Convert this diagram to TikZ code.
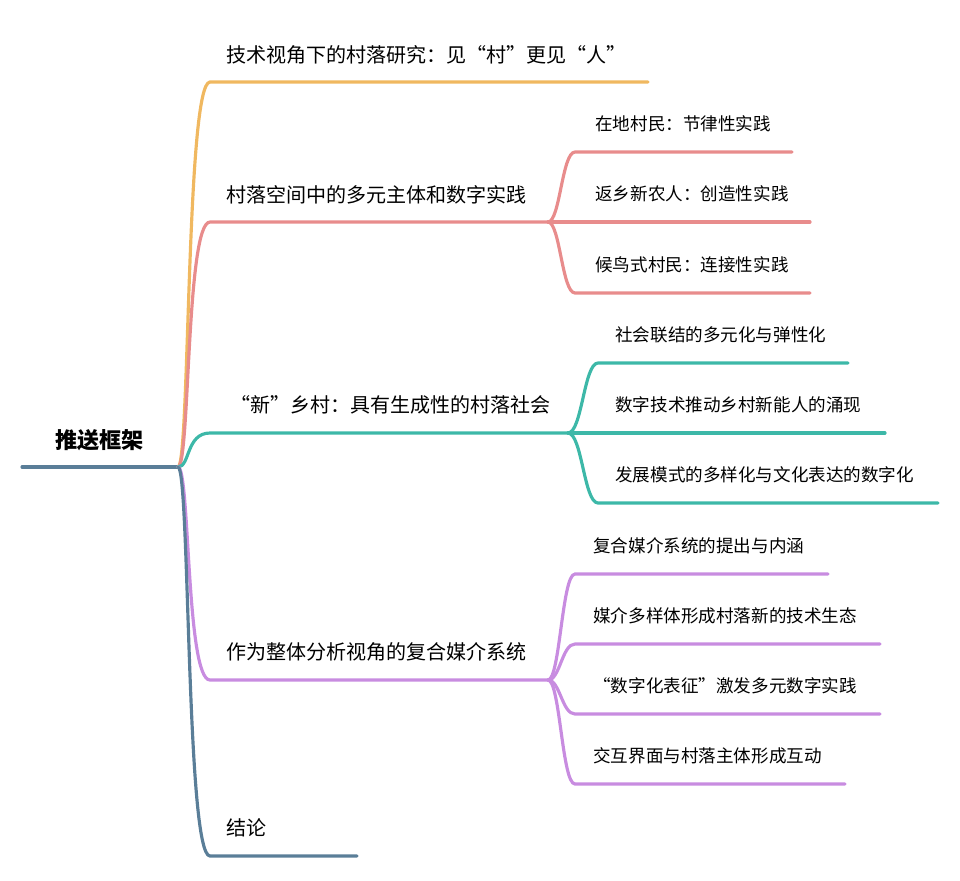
\documentclass[tikz,border=0pt]{standalone}
\usepackage{fontspec}
\setmainfont{Noto Sans CJK SC}
\definecolor{cOrange}{HTML}{F0B860}
\definecolor{cPink}{HTML}{E88C8C}
\definecolor{cTeal}{HTML}{3DB8A8}
\definecolor{cPurple}{HTML}{C88CE0}
\definecolor{cBlue}{HTML}{5A7E98}
\tikzset{
  lbl/.style={anchor=west, inner sep=0pt, font=\fontsize{10}{12}\selectfont},
  mainlbl/.style={lbl, font=\fontsize{11.4}{14}\selectfont},
  edge/.style={line width=1.8pt, line cap=round},
}
\begin{document}
\begin{tikzpicture}[x=0.02cm,y=-0.02cm]
  \usetikzlibrary{calc}
  \useasboundingbox (0,0) rectangle (960,880);
  % root
  \coordinate (R) at (178,467);
  \draw[edge,cBlue] (22,467) -- (R);
  \node[lbl, font=\fontsize{12.6}{15}\selectfont\bfseries] (root) at (55,440) {推送框架};

  % main branches
  \coordinate (A) at (210,82);  \coordinate (B) at (210,222);
  \coordinate (C) at (210,433); \coordinate (D) at (210,680);
  \coordinate (E) at (210,856);
  \draw[edge,cOrange] (R) .. controls (190,467) and (186,82) .. (A) -- (648,82);
  \draw[edge,cPink] (R) .. controls (190,467) and (186,222) .. (B) -- (548,222);
  \draw[edge,cTeal] (R) .. controls (190,467) and (186,433) .. (C) -- (568,433);
  \draw[edge,cPurple] (R) .. controls (190,467) and (186,680) .. (D) -- (548,680);
  \draw[edge,cBlue] (R) .. controls (190,467) and (186,856) .. (E) -- (357,856);
  \node[mainlbl] (a) at (226,55) {技术视角下的村落研究：见“村”更见“人”};
  \node[mainlbl] (b) at (226,195) {村落空间中的多元主体和数字实践};
  \node[mainlbl] (c) at (230,405) {“新”乡村：具有生成性的村落社会};
  \node[mainlbl] (d) at (226,652) {作为整体分析视角的复合媒介系统};
  \node[mainlbl] (e) at (226,828) {结论};

  % pink sub-branches
  \coordinate (B0) at (548,222);
  \foreach \y/\len/\t in {152/217/在地村民：节律性实践, 222/235/返乡新农人：创造性实践, 293/235/候鸟式村民：连接性实践}{
    \coordinate (s) at (575,\y);
    \draw[edge,cPink] (B0) .. controls (560,222) and (562,\y) .. (s) -- ++(\len,0);
    \node[lbl] at (595,\y-28) {\t};
  }
  % teal sub-branches
  \coordinate (C0) at (568,433);
  \foreach \y/\len/\t in {363/250/社会联结的多元化与弹性化, 433/287/数字技术推动乡村新能人的涌现, 503/340/发展模式的多样化与文化表达的数字化}{
    \coordinate (s) at (598,\y);
    \draw[edge,cTeal] (C0) .. controls (582,433) and (584,\y) .. (s) -- ++(\len,0);
    \node[lbl] at (615,\y-28) {\t};
  }
  % purple sub-branches
  \coordinate (D0) at (548,680);
  \foreach \y/\len/\t in {574/253/复合媒介系统的提出与内涵, 644/305/媒介多样体形成村落新的技术生态, 714/305/“数字化表征”激发多元数字实践, 784/270/交互界面与村落主体形成互动}{
    \coordinate (s) at (575,\y);
    \draw[edge,cPurple] (D0) .. controls (560,680) and (562,\y) .. (s) -- ++(\len,0);
    \node[lbl] at (593,\y-28) {\t};
  }
\end{tikzpicture}
\end{document}
